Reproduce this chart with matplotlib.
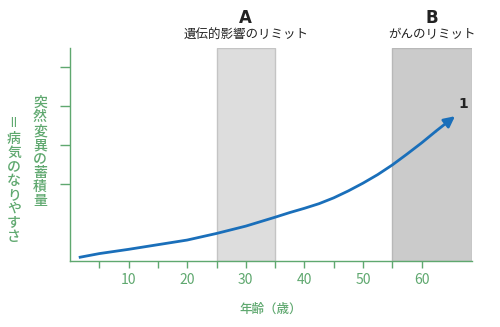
import matplotlib
matplotlib.use("Agg")
from matplotlib import pyplot as plt

plt.rcParams['font.family'] = ['Noto Sans CJK JP', 'DejaVu Sans']

# data
ages = [1.5, 5, 10, 15, 20, 25, 30, 35, 37.5, 40, 42.5, 45, 47.5, 50, 52.5, 55,
        57.5, 60, 62.5, 65.7]
risk = [0.09, 0.19, 0.30, 0.42, 0.54, 0.71, 0.90, 1.13, 1.25, 1.36, 1.48, 1.63, 1.81,
        2.01, 2.23, 2.48, 2.76, 3.05, 3.36, 3.74]
zone_a = (25, 35)
zone_b = (55, 68.6)
x_ticks = [5, 10, 15, 20, 25, 30, 35, 40, 45, 50, 55, 60]
x_labels = ['', '10', '', '20', '', '30', '', '40', '', '50', '', '60']
y_ticks = [2, 3, 4, 5]

green = '#5fa86f'
blue = '#1a6fba'

fig = plt.figure(figsize=(5, 3.27), dpi=100)
ax = fig.add_axes([0.14, 0.202, 0.804, 0.651])

# limit zones
ax.axvspan(*zone_a, facecolor='#dddddd', edgecolor='#c4c4c4', lw=1, zorder=0)
ax.axvspan(*zone_b, facecolor='#cbcbcb', edgecolor='#b8b8b8', lw=1, zorder=0)

# curve with arrow head at the end
ax.plot(ages[:-1], risk[:-1], color=blue, lw=2, solid_capstyle='butt')
ax.annotate('', xy=(ages[-1], risk[-1]), xytext=(ages[-2], risk[-2]),
            arrowprops=dict(arrowstyle='-|>', color=blue, lw=2,
                            mutation_scale=16, shrinkA=0, shrinkB=0))
ax.text(67.1, 4.05, '1', fontsize=10, fontweight='bold', color='#222222',
        ha='center', va='center', family='DejaVu Sans')

ax.set_xlim(0, 68.6)
ax.set_ylim(0, 5.5)
ax.set_xticks(x_ticks)
ax.set_xticklabels(x_labels)
ax.set_yticks(y_ticks)
ax.set_yticklabels([])
ax.tick_params(axis='x', colors=green, length=5, width=1, labelsize=10, pad=4)
ax.tick_params(axis='y', colors=green, length=7, width=1)
for side in ['top', 'right']:
    ax.spines[side].set_visible(False)
for side in ['left', 'bottom']:
    ax.spines[side].set_color(green)
    ax.spines[side].set_linewidth(1)

# zone titles
for xc, letter, name in [(30, 'A', '遺伝的影響のリミット'), (61.8, 'B', 'がんのリミット')]:
    ax.text(xc, 1.14, letter, transform=ax.get_xaxis_transform(),
            ha='center', va='center', fontsize=12, fontweight='bold', color='#222222',
            family='DejaVu Sans')
    ax.text(xc, 1.062, name, transform=ax.get_xaxis_transform(),
            ha='center', va='center', fontsize=9, color='#222222')

ax.set_xlabel('年齢（歳）', color=green, fontsize=9, labelpad=11, fontweight='medium')

# vertical y label, two columns
fig.text(40 / 500, 1 - 96 / 327, '\n'.join('突然変異の蓄積量'), color=green,
         fontsize=10, ha='center', va='top', linespacing=1.0, fontweight='medium')
fig.text(14 / 500, 1 - 119 / 327, '＝', color=green, rotation=90,
         fontsize=10, ha='center', va='center', fontweight='medium')
fig.text(14 / 500, 1 - 132 / 327, '\n'.join('病気のなりやすさ'), color=green,
         fontsize=10, ha='center', va='top', linespacing=1.0, fontweight='medium')

fig.savefig('out.png', dpi=100)
